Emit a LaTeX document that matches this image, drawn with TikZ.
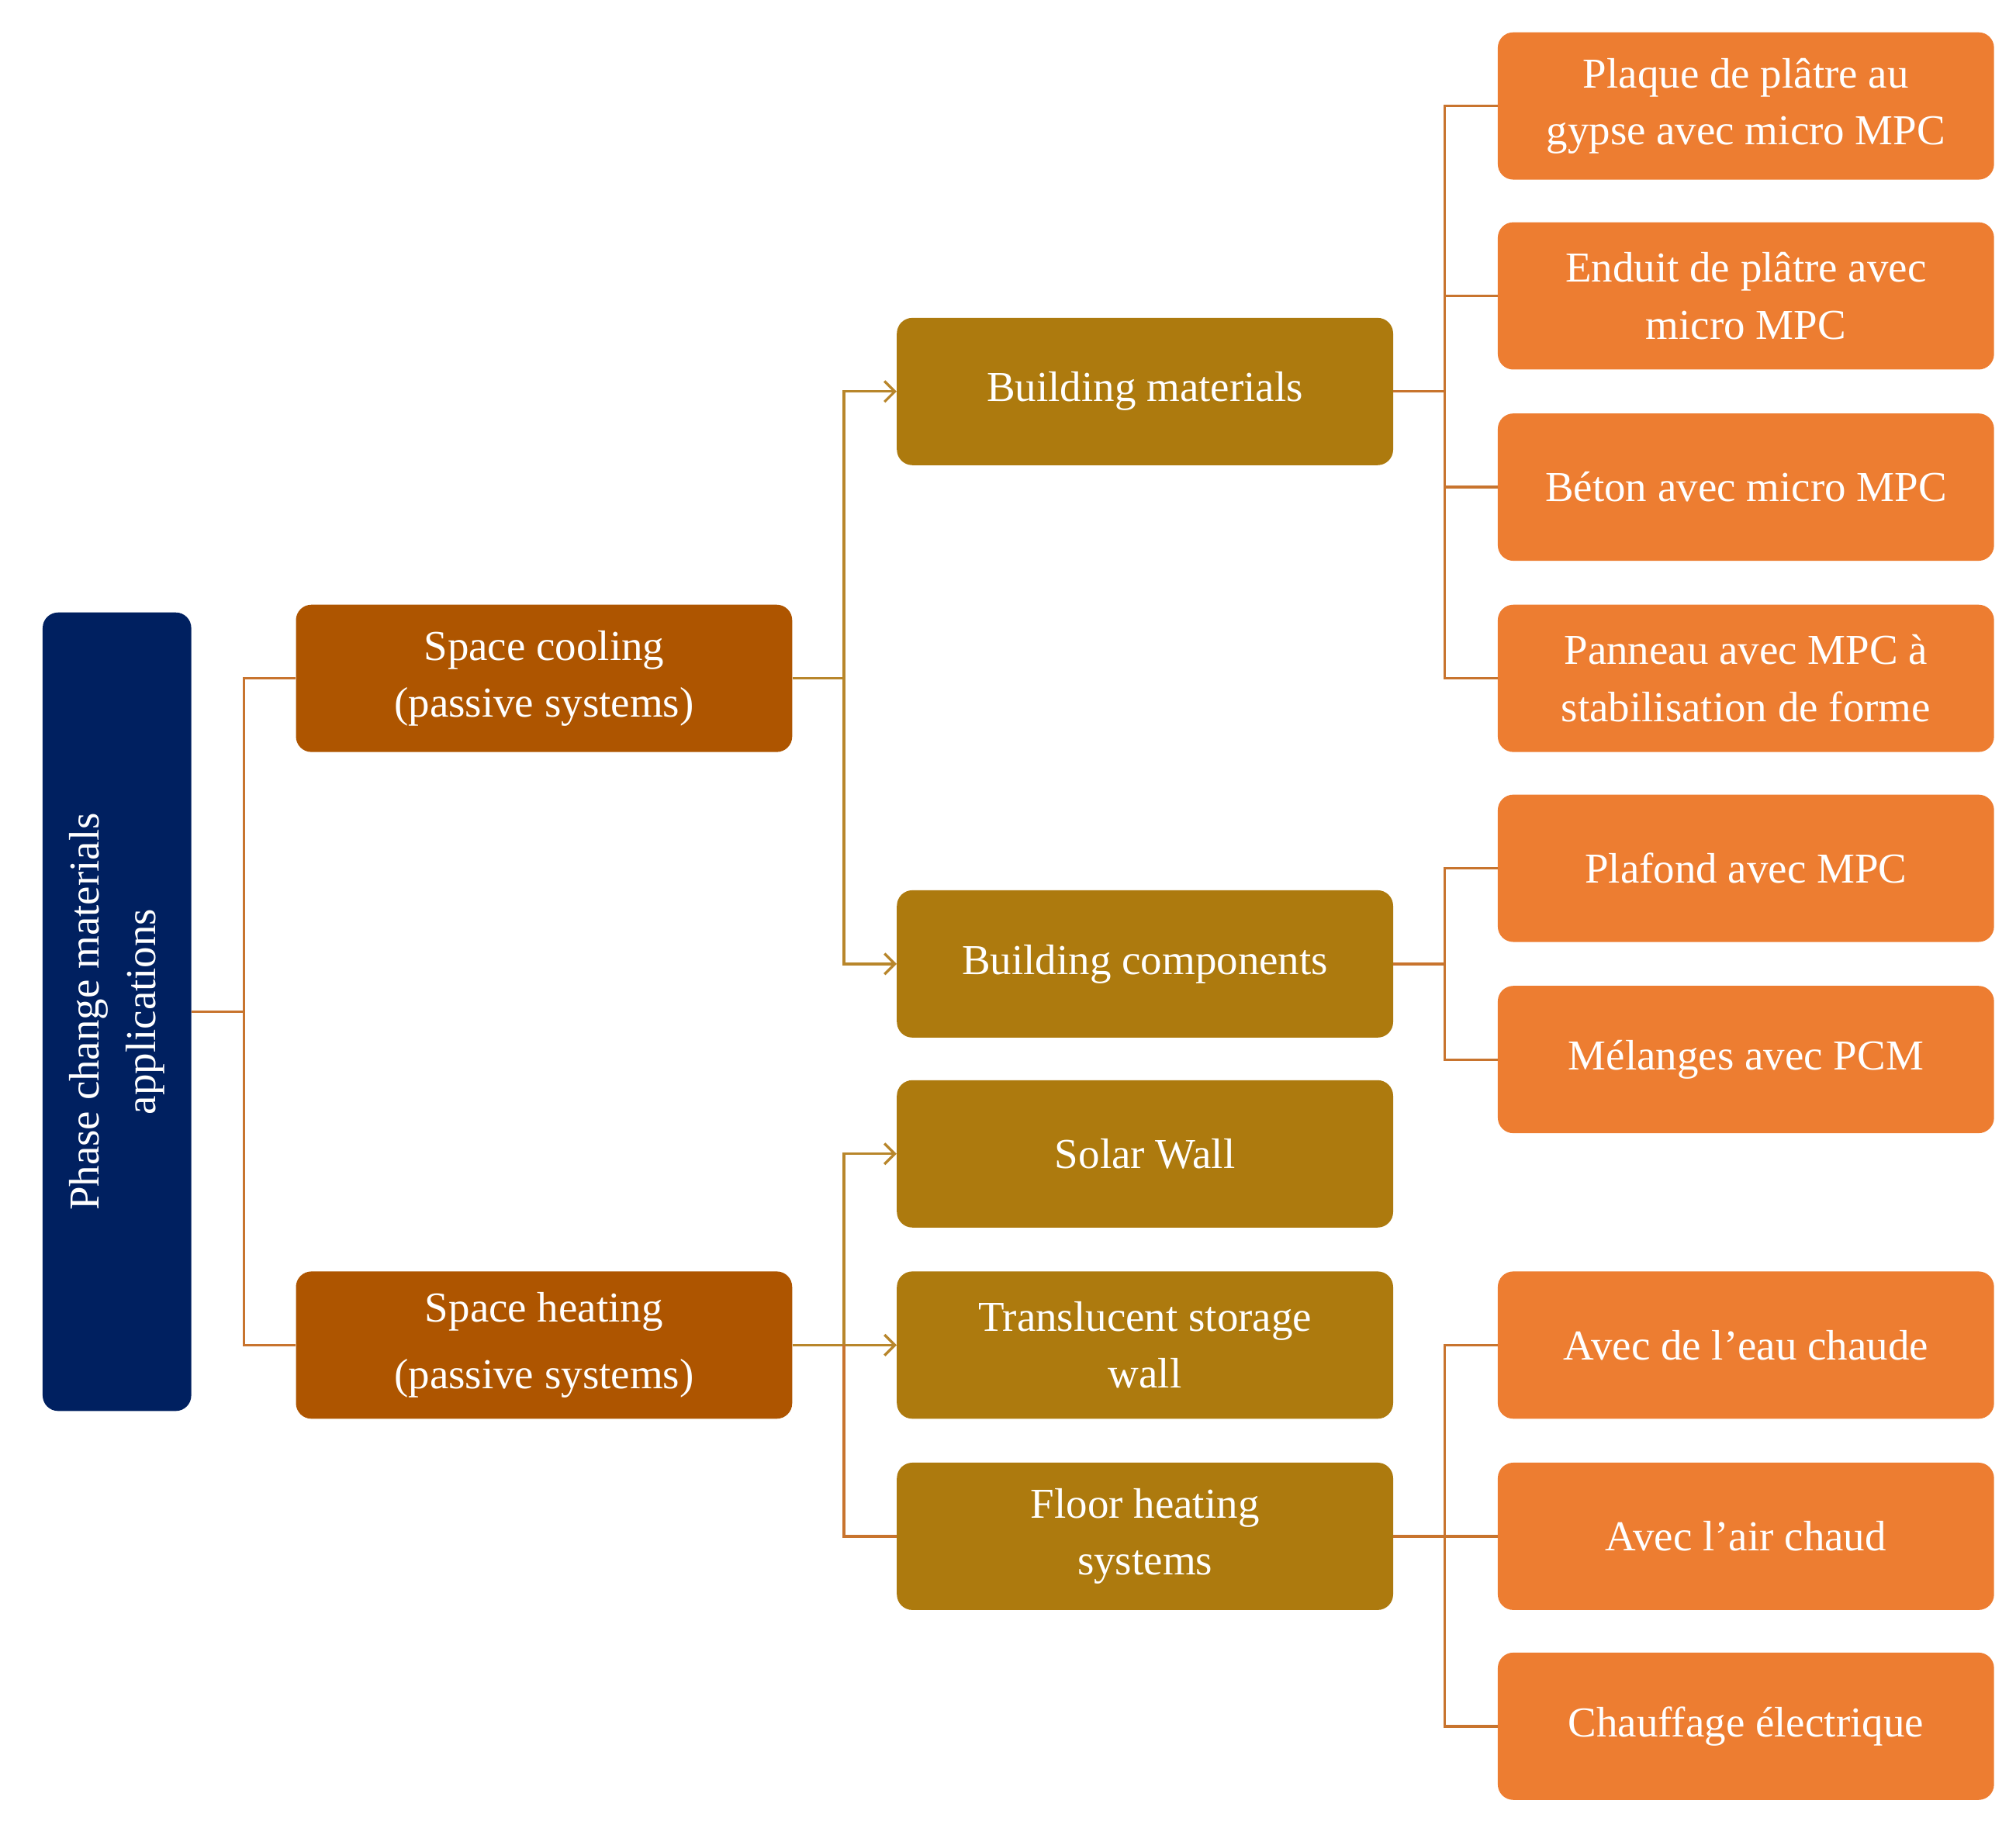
\documentclass[tikz,border=0pt]{standalone}
\usepackage{fontspec}
\usetikzlibrary{arrows.meta}
\setmainfont{Liberation Serif}
\begin{document}
\begin{tikzpicture}[x=1pt,y=-1pt,
 box/.style={rounded corners=12pt,minimum width=384pt,minimum height=114pt,text=white,align=center,font=\fontsize{33}{44}\selectfont,inner sep=2pt},
 l2/.style={box,fill=mid},
 l3/.style={box,fill=leaf},
 c1/.style={draw=lineA,line width=2pt},
 c2/.style={draw=lineB,line width=2pt},
 arr/.style={c2,-{Straight Barb[length=8pt,width=16pt]}}]
\definecolor{mid}{HTML}{AD7A0E}
\definecolor{leaf}{HTML}{ED7D31}
\definecolor{root}{HTML}{002060}
\definecolor{lineA}{HTML}{C8742E}
\definecolor{lineB}{HTML}{B8862B}
\definecolor{cool}{HTML}{AE5500}
\useasboundingbox (0,0) rectangle (1560,1409);
\node[box,fill=root,minimum width=618pt,minimum height=115pt,rotate=90] (root) at (90.5,783) {Phase change materials\\applications};
\node[box,fill=cool] (sc) at (421,525) {Space cooling\\(passive systems)};
\node[box,fill=cool,font=\fontsize{33}{52}\selectfont] (sh) at (421,1041) {Space heating\\(passive systems)};
\node[l2] (bm) at (886,303) {Building materials};
\node[l2] (bc) at (886,746) {Building components};
\node[l2] (sw) at (886,893) {Solar Wall};
\node[l2] (ts) at (886,1041) {Translucent storage\\wall};
\node[l2] (fh) at (886,1189) {Floor heating\\systems};
\node[l3] (r1) at (1351,82) {Plaque de plâtre au\\gypse avec micro MPC};
\node[l3] (r2) at (1351,229) {Enduit de plâtre avec\\micro MPC};
\node[l3] (r3) at (1351,377) {Béton avec micro MPC};
\node[l3] (r4) at (1351,525) {Panneau avec MPC à\\stabilisation de forme};
\node[l3] (r5) at (1351,672) {Plafond avec MPC};
\node[l3] (r6) at (1351,820) {Mélanges avec PCM};
\node[l3] (r7) at (1351,1041) {Avec de l'eau chaude};
\node[l3] (r8) at (1351,1189) {Avec l’air chaud};
\node[l3] (r9) at (1351,1336) {Chauffage électrique};
\coordinate (j0) at (188,783);
\draw[c1] (root.south) -- (j0);
\draw[c1] (sc.west) -- ++(-40,0) |- (sh.west);
\coordinate (j1) at (653,525);
\draw[c2] (sc.east) -- (j1);
\draw[arr] (j1) |- (bm.west);
\draw[arr] (j1) |- (bc.west);
\coordinate (j2) at (653,1041);
\draw[arr] (sh.east) -- (ts.west);
\draw[arr] (j2) |- (sw.west);
\draw[c1] (j2) |- (fh.west);
\coordinate (k1) at (1118,303);
\draw[c1] (bm.east) -- (k1);
\foreach \r in {r1,r2,r3,r4} \draw[c1] (k1) |- (\r.west);
\coordinate (k2) at (1118,746);
\draw[c1] (bc.east) -- (k2);
\foreach \r in {r5,r6} \draw[c1] (k2) |- (\r.west);
\coordinate (k3) at (1118,1189);
\draw[c1] (fh.east) -- (k3);
\foreach \r in {r7,r8,r9} \draw[c1] (k3) |- (\r.west);
\end{tikzpicture}
\end{document}
